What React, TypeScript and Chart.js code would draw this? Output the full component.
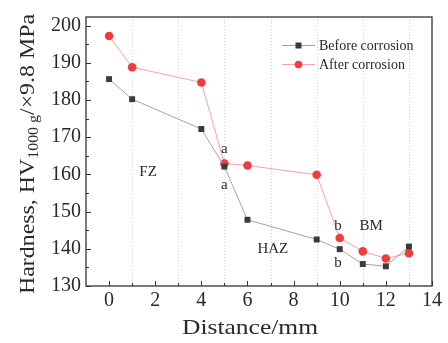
import React, { useEffect, useRef } from 'react';
import { Chart, registerables } from 'chart.js';

Chart.register(...registerables);

// ---- data ----
const distances = [0, 1, 4, 5, 6, 9, 10, 11, 12, 13];
const beforeCorrosion = [185.6, 180.2, 172.2, 162.1, 147.8, 142.5, 139.9, 135.9, 135.3, 140.6];
const afterCorrosion = [197.2, 188.8, 184.7, 162.9, 162.4, 159.9, 142.9, 139.3, 137.4, 138.8];
const seriesNames = ['Before corrosion', 'After corrosion'];

const xTickValues = [0, 2, 4, 6, 8, 10, 12, 14];
const xMinorValues = [1, 3, 5, 7, 9, 11, 13];
const yTickValues = [130, 140, 150, 160, 170, 180, 190, 200];
const yMinorValues = [135, 145, 155, 165, 175, 185, 195];

const xTitle = 'Distance/mm';
const yTitleMain = 'Hardness, HV';
const yTitleSub = '1000 g';
const yTitleTail = '/×9.8 MPa';

const annotationTexts = ['a', 'a', 'FZ', 'HAZ', 'b', 'b', 'BM'];
const annotationX = [5, 5, 1.69, 7.1, 9.93, 9.93, 11.36];
const annotationY = [166.9, 157.1, 160.7, 140, 146.2, 136.1, 146];

const SERIF = '"Liberation Serif", "Times New Roman", serif';
const BEFORE_MARK = '#3a3a3a';
const BEFORE_LINE = '#a3a3a3';
const AFTER_MARK = '#f23b3b';
const AFTER_LINE = '#f4a3a3';
const INK = '#2a2a2a';

const decorPlugin = {
  id: 'decor',
  beforeDatasetsDraw(chart: any) {
    const { ctx, chartArea, scales } = chart;
    const xs = scales.x;
    ctx.save();
    ctx.strokeStyle = 'rgba(200,200,200,0.8)';
    ctx.lineWidth = 1;
    ctx.setLineDash([1, 2]);
    xMinorValues.forEach((v) => {
      const px = Math.round(xs.getPixelForValue(v)) + 0.5;
      ctx.beginPath();
      ctx.moveTo(px, chartArea.top);
      ctx.lineTo(px, chartArea.bottom);
      ctx.stroke();
    });
    ctx.restore();
  },
  afterDraw(chart: any) {
    const { ctx, chartArea, scales } = chart;
    const xs = scales.x;
    const ys = scales.y;
    const { left, right, top, bottom } = chartArea;
    ctx.save();
    // box
    ctx.strokeStyle = '#333';
    ctx.lineWidth = 1.3;
    ctx.setLineDash([]);
    ctx.strokeRect(left, top, right - left, bottom - top);
    // inward ticks
    ctx.lineWidth = 1;
    const tick = (x1: number, y1: number, x2: number, y2: number) => {
      ctx.beginPath();
      ctx.moveTo(x1, y1);
      ctx.lineTo(x2, y2);
      ctx.stroke();
    };
    xTickValues.forEach((v) => {
      const px = Math.round(xs.getPixelForValue(v)) + 0.5;
      tick(px, bottom, px, bottom - 5);
    });
    xMinorValues.forEach((v) => {
      const px = Math.round(xs.getPixelForValue(v)) + 0.5;
      tick(px, bottom, px, bottom - 3);
    });
    yTickValues.forEach((v) => {
      const py = Math.round(ys.getPixelForValue(v)) + 0.5;
      tick(left, py, left + 5, py);
    });
    yMinorValues.forEach((v) => {
      const py = Math.round(ys.getPixelForValue(v)) + 0.5;
      tick(left, py, left + 3, py);
    });

    // annotations
    ctx.fillStyle = INK;
    ctx.font = `15px ${SERIF}`;
    ctx.textAlign = 'center';
    ctx.textBaseline = 'middle';
    annotationTexts.forEach((t, i) => {
      ctx.fillText(t, xs.getPixelForValue(annotationX[i]), ys.getPixelForValue(annotationY[i]));
    });

    // legend
    const legendX = 282;
    const legendY = [45, 64];
    ctx.font = `14px ${SERIF}`;
    ctx.textAlign = 'left';
    [0, 1].forEach((i) => {
      const y = legendY[i];
      ctx.strokeStyle = i === 0 ? BEFORE_LINE : AFTER_LINE;
      ctx.lineWidth = 1;
      tick(legendX, y + 0.5, legendX + 33, y + 0.5);
      ctx.fillStyle = i === 0 ? BEFORE_MARK : AFTER_MARK;
      if (i === 0) {
        ctx.fillRect(legendX + 16.5 - 3, y - 2.5, 6, 6);
      } else {
        ctx.beginPath();
        ctx.arc(legendX + 16.5, y + 0.5, 3.8, 0, Math.PI * 2);
        ctx.fill();
      }
      ctx.fillStyle = INK;
      ctx.fillText(seriesNames[i], legendX + 37, y + 1);
    });

    // x title
    ctx.font = `21px ${SERIF}`;
    ctx.textAlign = 'center';
    ctx.textBaseline = 'middle';
    const xw = ctx.measureText(xTitle).width;
    ctx.save();
    ctx.translate((left + right) / 2 - 9, 328);
    ctx.scale(136 / xw, 1);
    ctx.fillText(xTitle, 0, 0);
    ctx.restore();

    // y title with subscript
    const mainSize = 21;
    const subSize = 14;
    ctx.textAlign = 'left';
    ctx.textBaseline = 'alphabetic';
    ctx.font = `${mainSize}px ${SERIF}`;
    const w1 = ctx.measureText(yTitleMain).width;
    const w3 = ctx.measureText(yTitleTail).width;
    ctx.font = `${subSize}px ${SERIF}`;
    const w2 = ctx.measureText(yTitleSub).width;
    const total = w1 + w2 + w3;
    const target = 280;
    ctx.save();
    ctx.translate(34, 154);
    ctx.rotate(-Math.PI / 2);
    ctx.scale(target / total, 1);
    let cx = -total / 2;
    ctx.font = `${mainSize}px ${SERIF}`;
    ctx.fillText(yTitleMain, cx, 0);
    cx += w1;
    ctx.font = `${subSize}px ${SERIF}`;
    ctx.fillText(yTitleSub, cx, 4);
    cx += w2;
    ctx.font = `${mainSize}px ${SERIF}`;
    ctx.fillText(yTitleTail, cx, 0);
    ctx.restore();

    ctx.restore();
  },
};

export default function App() {
  const canvasRef = useRef<HTMLCanvasElement | null>(null);

  useEffect(() => {
    const canvas = canvasRef.current;
    if (!canvas) return;
    const chart = new Chart(canvas, {
      type: 'line',
      data: {
        datasets: [
          {
            label: seriesNames[0],
            data: distances.map((d, i) => ({ x: d, y: beforeCorrosion[i] })),
            borderColor: BEFORE_LINE,
            borderWidth: 1,
            pointStyle: 'rect',
            pointRadius: 4.2,
            pointBackgroundColor: BEFORE_MARK,
            pointBorderColor: BEFORE_MARK,
            pointBorderWidth: 0,
            tension: 0,
          },
          {
            label: seriesNames[1],
            data: distances.map((d, i) => ({ x: d, y: afterCorrosion[i] })),
            borderColor: AFTER_LINE,
            borderWidth: 1,
            pointStyle: 'circle',
            pointRadius: 4.3,
            pointBackgroundColor: AFTER_MARK,
            pointBorderColor: AFTER_MARK,
            pointBorderWidth: 0,
            tension: 0,
          },
        ],
      },
      options: {
        responsive: false,
        animation: false,
        layout: { padding: { top: 6, right: 16, left: 0, bottom: 0 } },
        plugins: { legend: { display: false }, tooltip: { enabled: false } },
        scales: {
          x: {
            type: 'linear',
            min: -1,
            max: 14,
            afterBuildTicks: (s: any) => {
              s.ticks = xTickValues.map((v) => ({ value: v }));
            },
            afterFit: (s: any) => {
              s.height = 57;
            },
            grid: { display: false, drawTicks: false },
            border: { display: false },
            ticks: {
              font: { family: SERIF, size: 20 },
              color: INK,
              padding: 3,
              maxRotation: 0,
              autoSkip: false,
            },
          },
          y: {
            type: 'linear',
            min: 130,
            max: 202.3,
            afterBuildTicks: (s: any) => {
              s.ticks = yTickValues.map((v) => ({ value: v }));
            },
            afterFit: (s: any) => {
              s.width = 86;
            },
            grid: { display: false, drawTicks: false },
            border: { display: false },
            ticks: {
              font: { family: SERIF, size: 20 },
              color: INK,
              padding: 5,
              autoSkip: false,
            },
          },
        },
      },
      plugins: [decorPlugin],
    });
    return () => chart.destroy();
  }, []);

  return (
    <div style={{ position: 'absolute', left: 0, top: 0, width: 448, height: 343, background: '#fff' }}>
      <canvas ref={canvasRef} width={448} height={343} style={{ display: 'block' }} />
    </div>
  );
}
